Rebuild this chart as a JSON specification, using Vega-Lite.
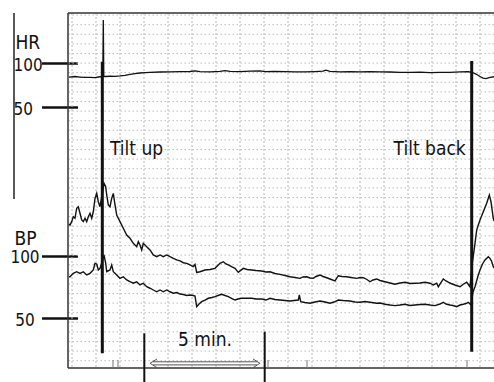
{
"$schema":"https://vega.github.io/schema/vega-lite/v6.json",
"width":426,"height":355,
"autosize":{"type":"none"},
"padding":{"left":68,"top":13,"right":0,"bottom":14},
"background":"white",
"config":{"view":{"stroke":null},"font":"DejaVu Sans Condensed, DejaVu Sans"},
"datasets":{
"bp":[
{"s":"a","t":-0.125,"bp":125.3},{"s":"a","t":-0.083,"bp":124.5},{"s":"a","t":-0.013,"bp":127.2},{"s":"a","t":0.054,"bp":131.1},{"s":"a","t":0.125,"bp":129.9},{"s":"a","t":0.196,"bp":137.9},{"s":"a","t":0.263,"bp":139.1},{"s":"a","t":0.333,"bp":133.9},{"s":"a","t":0.404,"bp":128.5},{"s":"a","t":0.471,"bp":127.2},{"s":"a","t":0.542,"bp":129.9},{"s":"a","t":0.613,"bp":127.2},{"s":"a","t":0.679,"bp":131.1},{"s":"a","t":0.75,"bp":133.9},{"s":"a","t":0.821,"bp":129.9},{"s":"a","t":0.888,"bp":135.1},{"s":"a","t":0.958,"bp":145.8},{"s":"a","t":1.029,"bp":149.8},{"s":"a","t":1.096,"bp":143.1},{"s":"a","t":1.167,"bp":139.1},{"s":"a","t":1.25,"bp":148.5},{"s":"a","t":1.333,"bp":157.8},{"s":"a","t":1.404,"bp":155.1},{"s":"a","t":1.446,"bp":148.5},{"s":"a","t":1.513,"bp":140.5},{"s":"a","t":1.583,"bp":139.1},{"s":"a","t":1.654,"bp":145.8},{"s":"a","t":1.721,"bp":149.8},{"s":"a","t":1.792,"bp":140.5},{"s":"a","t":1.863,"bp":132.5},{"s":"a","t":2.0,"bp":127.2},{"s":"a","t":2.138,"bp":121.9},{"s":"a","t":2.279,"bp":116.5},{"s":"a","t":2.417,"bp":113.9},{"s":"a","t":2.554,"bp":109.9},{"s":"a","t":2.696,"bp":107.2},{"s":"a","t":2.763,"bp":111.2},{"s":"a","t":2.833,"bp":108.5},{"s":"a","t":2.904,"bp":104.6},{"s":"a","t":2.971,"bp":109.9},{"s":"a","t":3.113,"bp":107.2},{"s":"a","t":3.25,"bp":104.6},{"s":"a","t":3.388,"bp":100.6},{"s":"a","t":3.529,"bp":99.2},{"s":"a","t":3.667,"bp":100.6},{"s":"a","t":3.804,"bp":99.2},{"s":"a","t":3.946,"bp":100.6},{"s":"a","t":4.083,"bp":99.2},{"s":"a","t":4.221,"bp":97.9},{"s":"a","t":4.363,"bp":96.6},{"s":"a","t":4.5,"bp":95.8},{"s":"a","t":4.638,"bp":94.4},{"s":"a","t":4.779,"bp":93.9},{"s":"a","t":4.917,"bp":92.6},{"s":"a","t":5.054,"bp":91.2},{"s":"a","t":5.125,"bp":93.1},{"s":"a","t":5.196,"bp":86.7},{"s":"a","t":5.333,"bp":87.2},{"s":"a","t":5.542,"bp":88.6},{"s":"a","t":5.75,"bp":89.0},{"s":"a","t":5.958,"bp":89.9},{"s":"a","t":6.167,"bp":93.9},{"s":"a","t":6.304,"bp":95.2},{"s":"a","t":6.417,"bp":93.4},{"s":"a","t":6.513,"bp":92.6},{"s":"a","t":6.667,"bp":91.0},{"s":"a","t":6.792,"bp":89.9},{"s":"a","t":6.929,"bp":86.7},{"s":"a","t":7.138,"bp":89.9},{"s":"a","t":7.292,"bp":89.0},{"s":"a","t":7.488,"bp":88.6},{"s":"a","t":7.667,"bp":88.2},{"s":"a","t":7.904,"bp":87.8},{"s":"a","t":8.083,"bp":87.0},{"s":"a","t":8.25,"bp":87.2},{"s":"a","t":8.458,"bp":85.8},{"s":"a","t":8.667,"bp":85.1},{"s":"a","t":8.875,"bp":84.2},{"s":"a","t":9.083,"bp":83.2},{"s":"a","t":9.292,"bp":82.6},{"s":"a","t":9.5,"bp":81.9},{"s":"a","t":9.625,"bp":83.0},{"s":"a","t":9.779,"bp":83.2},{"s":"a","t":9.917,"bp":82.2},{"s":"a","t":10.054,"bp":81.9},{"s":"a","t":10.167,"bp":83.4},{"s":"a","t":10.333,"bp":84.6},{"s":"a","t":10.458,"bp":83.4},{"s":"a","t":10.613,"bp":82.4},{"s":"a","t":10.75,"bp":81.4},{"s":"a","t":10.958,"bp":79.8},{"s":"a","t":11.096,"bp":84.0},{"s":"a","t":11.25,"bp":83.4},{"s":"a","t":11.446,"bp":83.2},{"s":"a","t":11.625,"bp":82.6},{"s":"a","t":11.863,"bp":81.9},{"s":"a","t":12.0,"bp":82.6},{"s":"a","t":12.138,"bp":82.4},{"s":"a","t":12.292,"bp":81.0},{"s":"a","t":12.417,"bp":79.2},{"s":"a","t":12.542,"bp":80.6},{"s":"a","t":12.696,"bp":81.4},{"s":"a","t":12.833,"bp":80.2},{"s":"a","t":13.042,"bp":79.2},{"s":"a","t":13.25,"bp":78.2},{"s":"a","t":13.458,"bp":77.2},{"s":"a","t":13.667,"bp":78.2},{"s":"a","t":13.875,"bp":78.8},{"s":"a","t":14.083,"bp":77.8},{"s":"a","t":14.292,"bp":78.0},{"s":"a","t":14.5,"bp":78.2},{"s":"a","t":14.708,"bp":78.8},{"s":"a","t":14.917,"bp":78.0},{"s":"a","t":15.054,"bp":76.6},{"s":"a","t":15.196,"bp":78.0},{"s":"a","t":15.263,"bp":75.2},{"s":"a","t":15.471,"bp":81.4},{"s":"a","t":15.583,"bp":79.8},{"s":"a","t":15.679,"bp":78.8},{"s":"a","t":15.792,"bp":77.8},{"s":"a","t":15.958,"bp":76.6},{"s":"a","t":16.167,"bp":75.2},{"s":"a","t":16.304,"bp":77.2},{"s":"a","t":16.446,"bp":78.8},{"s":"a","t":16.583,"bp":75.2},{"s":"a","t":16.688,"bp":95.0},{"s":"a","t":16.792,"bp":109.9},{"s":"a","t":16.863,"bp":120.5},{"s":"a","t":16.929,"bp":124.5},{"s":"a","t":17.0,"bp":128.5},{"s":"a","t":17.138,"bp":135.1},{"s":"a","t":17.279,"bp":141.9},{"s":"a","t":17.388,"bp":148.5},{"s":"a","t":17.458,"bp":143.1},{"s":"a","t":17.554,"bp":129.9},{"s":"a","t":17.583,"bp":127.7},
{"s":"b","t":-0.125,"bp":83.2},{"s":"b","t":-0.083,"bp":83.2},{"s":"b","t":0.054,"bp":85.9},{"s":"b","t":0.196,"bp":87.2},{"s":"b","t":0.333,"bp":85.9},{"s":"b","t":0.471,"bp":87.2},{"s":"b","t":0.613,"bp":84.6},{"s":"b","t":0.75,"bp":85.9},{"s":"b","t":0.888,"bp":88.6},{"s":"b","t":0.958,"bp":93.9},{"s":"b","t":1.029,"bp":93.4},{"s":"b","t":1.096,"bp":88.6},{"s":"b","t":1.167,"bp":89.9},{"s":"b","t":1.25,"bp":95.0},{"s":"b","t":1.333,"bp":100.6},{"s":"b","t":1.404,"bp":93.9},{"s":"b","t":1.446,"bp":87.2},{"s":"b","t":1.583,"bp":88.6},{"s":"b","t":1.654,"bp":92.6},{"s":"b","t":1.721,"bp":87.2},{"s":"b","t":1.863,"bp":84.6},{"s":"b","t":2.0,"bp":81.9},{"s":"b","t":2.138,"bp":83.2},{"s":"b","t":2.279,"bp":80.6},{"s":"b","t":2.417,"bp":79.2},{"s":"b","t":2.554,"bp":78.0},{"s":"b","t":2.696,"bp":79.2},{"s":"b","t":2.833,"bp":76.6},{"s":"b","t":2.971,"bp":78.0},{"s":"b","t":3.113,"bp":75.2},{"s":"b","t":3.25,"bp":74.0},{"s":"b","t":3.388,"bp":72.6},{"s":"b","t":3.529,"bp":71.2},{"s":"b","t":3.667,"bp":72.6},{"s":"b","t":3.804,"bp":71.2},{"s":"b","t":3.946,"bp":72.6},{"s":"b","t":4.083,"bp":71.2},{"s":"b","t":4.221,"bp":70.0},{"s":"b","t":4.375,"bp":70.6},{"s":"b","t":4.5,"bp":69.4},{"s":"b","t":4.638,"bp":69.0},{"s":"b","t":4.779,"bp":68.2},{"s":"b","t":4.917,"bp":68.6},{"s":"b","t":5.054,"bp":68.2},{"s":"b","t":5.125,"bp":67.8},{"s":"b","t":5.196,"bp":59.3},{"s":"b","t":5.292,"bp":61.4},{"s":"b","t":5.404,"bp":63.3},{"s":"b","t":5.542,"bp":64.6},{"s":"b","t":5.679,"bp":66.0},{"s":"b","t":5.833,"bp":66.6},{"s":"b","t":5.958,"bp":67.3},{"s":"b","t":6.083,"bp":68.2},{"s":"b","t":6.238,"bp":69.2},{"s":"b","t":6.375,"bp":68.2},{"s":"b","t":6.513,"bp":67.3},{"s":"b","t":6.667,"bp":65.8},{"s":"b","t":6.792,"bp":64.6},{"s":"b","t":6.917,"bp":65.4},{"s":"b","t":7.071,"bp":66.0},{"s":"b","t":7.279,"bp":66.0},{"s":"b","t":7.488,"bp":66.0},{"s":"b","t":7.667,"bp":65.4},{"s":"b","t":7.904,"bp":65.4},{"s":"b","t":8.083,"bp":64.6},{"s":"b","t":8.25,"bp":66.0},{"s":"b","t":8.458,"bp":65.0},{"s":"b","t":8.667,"bp":64.6},{"s":"b","t":8.875,"bp":64.2},{"s":"b","t":9.083,"bp":63.8},{"s":"b","t":9.25,"bp":64.2},{"s":"b","t":9.429,"bp":64.6},{"s":"b","t":9.471,"bp":68.6},{"s":"b","t":9.529,"bp":63.3},{"s":"b","t":9.708,"bp":62.6},{"s":"b","t":9.917,"bp":62.0},{"s":"b","t":10.125,"bp":63.0},{"s":"b","t":10.333,"bp":63.8},{"s":"b","t":10.542,"bp":63.0},{"s":"b","t":10.75,"bp":62.0},{"s":"b","t":10.917,"bp":63.0},{"s":"b","t":11.096,"bp":64.6},{"s":"b","t":11.292,"bp":64.2},{"s":"b","t":11.583,"bp":63.8},{"s":"b","t":11.792,"bp":63.0},{"s":"b","t":12.0,"bp":62.8},{"s":"b","t":12.208,"bp":63.4},{"s":"b","t":12.417,"bp":62.8},{"s":"b","t":12.696,"bp":62.0},{"s":"b","t":12.833,"bp":62.2},{"s":"b","t":13.042,"bp":61.2},{"s":"b","t":13.25,"bp":60.6},{"s":"b","t":13.458,"bp":60.1},{"s":"b","t":13.667,"bp":60.6},{"s":"b","t":13.875,"bp":61.2},{"s":"b","t":14.083,"bp":60.2},{"s":"b","t":14.292,"bp":60.6},{"s":"b","t":14.5,"bp":61.0},{"s":"b","t":14.708,"bp":61.2},{"s":"b","t":14.917,"bp":60.6},{"s":"b","t":15.125,"bp":60.1},{"s":"b","t":15.333,"bp":61.4},{"s":"b","t":15.471,"bp":62.8},{"s":"b","t":15.583,"bp":61.4},{"s":"b","t":15.75,"bp":60.6},{"s":"b","t":15.875,"bp":60.2},{"s":"b","t":16.029,"bp":59.3},{"s":"b","t":16.167,"bp":60.6},{"s":"b","t":16.304,"bp":61.2},{"s":"b","t":16.417,"bp":61.8},{"s":"b","t":16.513,"bp":62.8},{"s":"b","t":16.625,"bp":60.6},{"s":"b","t":16.708,"bp":71.0},{"s":"b","t":16.792,"bp":75.2},{"s":"b","t":16.917,"bp":83.8},{"s":"b","t":17.0,"bp":88.6},{"s":"b","t":17.104,"bp":93.4},{"s":"b","t":17.208,"bp":96.6},{"s":"b","t":17.346,"bp":99.2},{"s":"b","t":17.417,"bp":97.9},{"s":"b","t":17.479,"bp":95.8},{"s":"b","t":17.554,"bp":91.2},{"s":"b","t":17.583,"bp":90.2}
],
"hr":[
{"t":-0.125,"hr":84.4},{"t":0.125,"hr":85.0},{"t":0.333,"hr":84.4},{"t":0.542,"hr":83.9},{"t":0.75,"hr":84.1},{"t":0.958,"hr":83.8},{"t":1.167,"hr":84.7},{"t":1.283,"hr":85.0},{"t":1.304,"hr":149.2},{"t":1.325,"hr":85.0},{"t":1.375,"hr":85.0},{"t":1.583,"hr":85.3},{"t":1.792,"hr":85.2},{"t":2.0,"hr":85.6},{"t":2.208,"hr":86.4},{"t":2.417,"hr":87.5},{"t":2.625,"hr":88.3},{"t":2.833,"hr":89.0},{"t":3.042,"hr":89.4},{"t":3.25,"hr":89.8},{"t":3.667,"hr":90.1},{"t":4.083,"hr":90.3},{"t":4.5,"hr":90.5},{"t":4.917,"hr":90.7},{"t":5.125,"hr":91.3},{"t":5.333,"hr":90.6},{"t":5.75,"hr":90.3},{"t":6.167,"hr":90.9},{"t":6.375,"hr":91.7},{"t":6.583,"hr":90.8},{"t":7.0,"hr":90.5},{"t":7.417,"hr":91.0},{"t":7.833,"hr":91.5},{"t":8.042,"hr":90.6},{"t":8.458,"hr":90.9},{"t":8.875,"hr":90.6},{"t":9.292,"hr":90.2},{"t":9.708,"hr":90.3},{"t":10.125,"hr":90.6},{"t":10.458,"hr":91.0},{"t":10.583,"hr":92.2},{"t":10.75,"hr":90.8},{"t":11.167,"hr":90.3},{"t":11.583,"hr":90.5},{"t":12.0,"hr":90.2},{"t":12.417,"hr":90.6},{"t":12.833,"hr":90.3},{"t":13.25,"hr":90.1},{"t":13.667,"hr":89.8},{"t":14.083,"hr":89.7},{"t":14.5,"hr":89.9},{"t":14.917,"hr":89.4},{"t":15.333,"hr":89.6},{"t":15.75,"hr":89.8},{"t":16.167,"hr":90.3},{"t":16.5,"hr":90.6},{"t":16.667,"hr":89.8},{"t":16.833,"hr":87.8},{"t":17.0,"hr":85.0},{"t":17.125,"hr":83.1},{"t":17.25,"hr":82.7},{"t":17.417,"hr":83.9},{"t":17.583,"hr":84.7}
],
"hgrid":[{"bp":292.2},{"bp":284.53},{"bp":276.86},{"bp":269.2},{"bp":261.53},{"bp":253.86},{"bp":246.19},{"bp":238.52},{"bp":230.86},{"bp":223.19},{"bp":215.52},{"bp":207.85},{"bp":200.18},{"bp":192.52},{"bp":184.85},{"bp":177.18},{"bp":169.51},{"bp":161.84},{"bp":154.18},{"bp":146.51},{"bp":138.84},{"bp":131.17},{"bp":123.5},{"bp":115.84},{"bp":108.17},{"bp":100.5},{"bp":92.83},{"bp":85.16},{"bp":77.5},{"bp":69.83},{"bp":62.16},{"bp":54.49},{"bp":46.82},{"bp":39.16},{"bp":31.49},{"bp":23.82},{"bp":16.15}],
"vgrid":[{"t":0},{"t":1},{"t":2},{"t":3},{"t":4},{"t":5},{"t":6},{"t":7},{"t":8},{"t":9},{"t":10},{"t":11},{"t":12},{"t":13},{"t":14},{"t":15},{"t":16},{"t":17}]
},
"layer":[
{"layer":[
{"data":{"name":"vgrid"},"mark":{"type":"rule","stroke":"#b8b8b8","strokeWidth":1,"strokeDash":[2,2]},
 "encoding":{"x":{"field":"t","type":"quantitative","scale":{"domain":[-0.1667,17.5833],"nice":false,"zero":false},"axis":null}}},
{"data":{"name":"hgrid"},"mark":{"type":"rule","stroke":"#bdbdbd","strokeWidth":1,"strokeDash":[1.5,2.5]},
 "encoding":{"y":{"field":"bp","type":"quantitative","scale":{"domain":[10.3,293.85],"nice":false,"zero":false}}}},
{"data":{"values":[{"bp":293.85},{"bp":10.3}]},"mark":{"type":"rule","stroke":"#333","strokeWidth":1.5},
 "encoding":{"y":{"field":"bp","type":"quantitative"}}},
{"data":{"values":[{"t":-0.1667}]},"mark":{"type":"rule","stroke":"#333","strokeWidth":1.5},
 "encoding":{"x":{"field":"t","type":"quantitative","axis":null}}},
{"data":{"name":"bp"},"mark":{"type":"line","stroke":"#111","strokeWidth":1.4},
 "encoding":{
  "x":{"field":"t","type":"quantitative","axis":null},
  "y":{"field":"bp","type":"quantitative","axis":{"orient":"left","values":[50,100],"offset":-9.5,"tickSize":36,"tickWidth":2.5,"tickColor":"#111","domain":false,"grid":false,"labelAlign":"center","labelPadding":17,"labelFontSize":17,"labelColor":"#111","labelBaseline":"middle","labelOffset":2,"title":"BP","titleAngle":0,"titleX":-63.5,"titleY":225,"titleAlign":"left","titleBaseline":"middle","titleFontSize":19,"titleFontWeight":"normal","titleColor":"#111"}},
  "detail":{"field":"s","type":"nominal"}}},
{"data":{"values":[{"t":1.263,"bp":254.95,"bp2":22.05},{"t":16.654,"bp":255.5,"bp2":23.3}]},"mark":{"type":"rule","stroke":"#111","strokeWidth":3},
 "encoding":{"x":{"field":"t","type":"quantitative","axis":null},"y":{"field":"bp","type":"quantitative"},"y2":{"field":"bp2"}}},
{"data":{"values":[{"t":3.013,"bp":38.0,"bp2":-1},{"t":8.029,"bp":39.3,"bp2":-1}]},"mark":{"type":"rule","stroke":"#111","strokeWidth":2,"clip":false},
 "encoding":{"x":{"field":"t","type":"quantitative","axis":null},"y":{"field":"bp","type":"quantitative"},"y2":{"field":"bp2"}}},
{"data":{"values":[{"t":-2.417,"bp":293.85,"bp2":145.3}]},"mark":{"type":"rule","stroke":"#222","strokeWidth":1.5,"clip":false},
 "encoding":{"x":{"field":"t","type":"quantitative","axis":null},"y":{"field":"bp","type":"quantitative"},"y2":{"field":"bp2"}}},
{"data":{"values":[{"t":1.708,"bp":16.7,"bp2":10.3},{"t":1.917,"bp":16.7,"bp2":10.3},{"t":8.167,"bp":16.7,"bp2":10.3},{"t":9.792,"bp":16.7,"bp2":10.3},{"t":16.458,"bp":16.7,"bp2":10.3}]},"mark":{"type":"rule","stroke":"#777","strokeWidth":1},
 "encoding":{"x":{"field":"t","type":"quantitative","axis":null},"y":{"field":"bp","type":"quantitative"},"y2":{"field":"bp2"}}},
{"data":{"values":[
 {"p":"l","o":1,"t":3.542,"bp":17.49},{"p":"l","o":2,"t":3.25,"bp":14.06},{"p":"l","o":3,"t":3.542,"bp":10.55},
 {"p":"r","o":1,"t":7.542,"bp":17.49},{"p":"r","o":2,"t":7.833,"bp":14.06},{"p":"r","o":3,"t":7.542,"bp":10.55},
 {"p":"u","o":1,"t":3.375,"bp":15.26},{"p":"u","o":2,"t":7.708,"bp":15.26},
 {"p":"d","o":1,"t":3.375,"bp":12.78},{"p":"d","o":2,"t":7.708,"bp":12.78}]},
 "mark":{"type":"line","stroke":"#555","strokeWidth":1},
 "encoding":{"x":{"field":"t","type":"quantitative","axis":null},"y":{"field":"bp","type":"quantitative"},"detail":{"field":"p","type":"nominal"},"order":{"field":"o","type":"quantitative"}}},
{"data":{"values":[{"t":1.583,"bp":180.4,"label":"Tilt up"}]},"mark":{"type":"text","align":"left","baseline":"alphabetic","fontSize":19,"color":"#111"},
 "encoding":{"x":{"field":"t","type":"quantitative","axis":null},"y":{"field":"bp","type":"quantitative"},"text":{"field":"label"}}},
{"data":{"values":[{"t":16.404,"bp":180.4,"label":"Tilt back"}]},"mark":{"type":"text","align":"right","baseline":"alphabetic","fontSize":19,"color":"#111"},
 "encoding":{"x":{"field":"t","type":"quantitative","axis":null},"y":{"field":"bp","type":"quantitative"},"text":{"field":"label"}}},
{"data":{"values":[{"t":5.542,"bp":27.5,"label":"5 min."}]},"mark":{"type":"text","align":"center","baseline":"alphabetic","fontSize":19,"color":"#111"},
 "encoding":{"x":{"field":"t","type":"quantitative","axis":null},"y":{"field":"bp","type":"quantitative"},"text":{"field":"label"}}}
]},
{"data":{"name":"hr"},"mark":{"type":"line","stroke":"#111","strokeWidth":1.3},
 "encoding":{
  "x":{"field":"t","type":"quantitative","axis":null},
  "y":{"field":"hr","type":"quantitative","scale":{"domain":[-246.25,157.16],"nice":false,"zero":false},
   "axis":{"orient":"left","values":[50,100],"offset":-9.5,"tickSize":36,"tickWidth":2.5,"tickColor":"#111","domain":false,"grid":false,"labelAlign":"left","labelPadding":28.5,"labelFontSize":17,"labelColor":"#111","labelBaseline":"middle","labelOffset":2,"title":"HR","titleAngle":0,"titleX":-62.5,"titleY":29.5,"titleAlign":"left","titleBaseline":"middle","titleFontSize":19,"titleFontWeight":"normal","titleColor":"#111"}}}}
],
"resolve":{"scale":{"y":"independent"}}
}
